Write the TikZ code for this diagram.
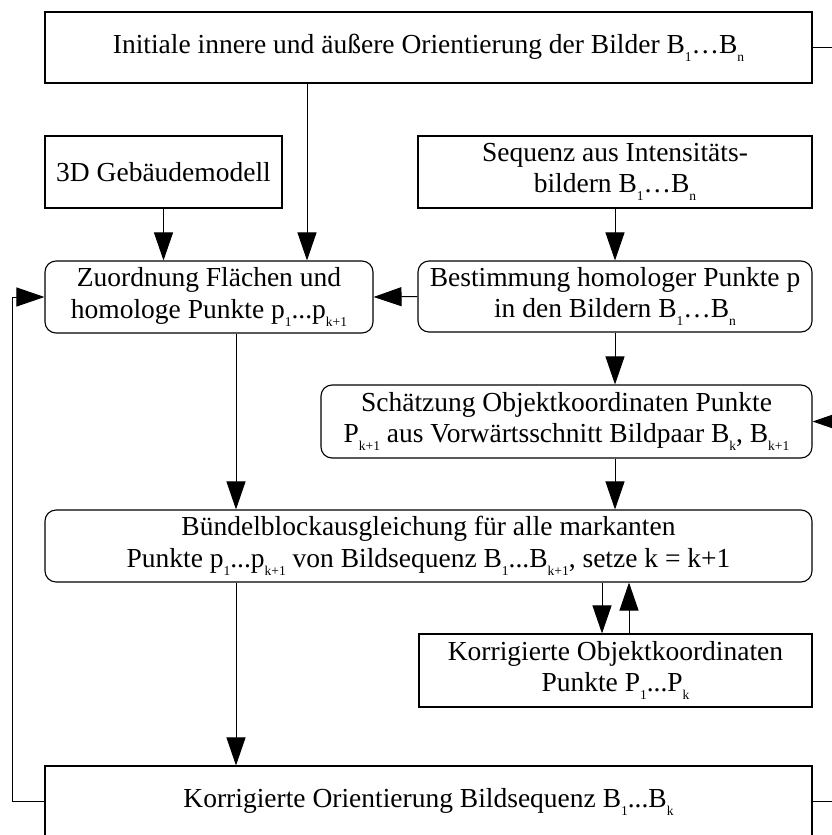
\documentclass[tikz,border=0pt]{standalone}
\usepackage{fontspec}
\setmainfont{Liberation Serif}
\usetikzlibrary{arrows.meta}
\newcommand{\sbs}[1]{\raisebox{-8pt}{\fontsize{13.5}{13.5}\selectfont #1}}
\begin{document}
\begin{tikzpicture}[x=1pt,y=-1pt,
  box/.style={draw, line width=1.1pt, inner sep=0pt, align=center,
    font=\fontsize{27.5}{31.5}\selectfont},
  rbox/.style={box, rounded corners=11pt},
  arr/.style={line width=1pt, -{Triangle[length=28pt,width=19pt]}},
  ln/.style={line width=1pt}]
\clip (0,0) rectangle (832,835);
\fill[white] (0,0) rectangle (832,835);

\node[box, minimum width=767pt, minimum height=71pt] (top) at (428.5,47.5)
  {Initiale innere und äußere Orientierung der Bilder B\sbs{1}…B\sbs{n}};
\node[box, minimum width=237pt, minimum height=72pt] (geb) at (163.5,172)
  {3D Gebäudemodell};
\node[box, minimum width=394pt, minimum height=72pt] (seq) at (615,172)
  {Sequenz aus Intensitäts-\\bildern B\sbs{1}…B\sbs{n}};
\node[rbox, minimum width=328pt, minimum height=72pt] (zuo) at (209,297)
  {Zuordnung Flächen und\\homologe Punkte p\sbs{1}...p\sbs{k+1}};
\node[rbox, minimum width=394pt, minimum height=71pt] (bes) at (615,296.5)
  {Bestimmung homologer Punkte p\\in den Bildern B\sbs{1}…B\sbs{n}};
\node[rbox, minimum width=491pt, minimum height=73pt] (sch) at (566.5,421.5)
  {Schätzung Objektkoordinaten Punkte\\P\sbs{k+1} aus Vorwärtsschnitt Bildpaar B\sbs{k}, B\sbs{k+1}};
\node[rbox, minimum width=767pt, minimum height=72pt] (bue) at (428.5,546)
  {Bündelblockausgleichung für alle markanten\\Punkte p\sbs{1}...p\sbs{k+1} von Bildsequenz B\sbs{1}...B\sbs{k+1}, setze k = k+1};
\node[box, minimum width=393pt, minimum height=73pt] (kob) at (615.5,670.5)
  {Korrigierte Objektkoordinaten\\Punkte P\sbs{1}...P\sbs{k}};
\node[box, minimum width=767pt, minimum height=71pt] (bot) at (428.5,801.5)
  {Korrigierte Orientierung Bildsequenz B\sbs{1}...B\sbs{k}};

\coordinate (xa) at (307,0);
\coordinate (xb) at (236,0);
\coordinate (rt) at (832,47.5);
\coordinate (rs) at (832,421.5);
\coordinate (rb) at (832,801.5);
\coordinate (lb) at (12,801.5);

\draw[ln] (top.east) -- (rt);
\draw[arr] (top.south -| xa) -- (zuo.north -| xa);
\draw[arr] (geb.south) -- (geb.south |- zuo.north);
\draw[arr] (seq.south) -- (bes.north);
\draw[arr] (bes.west) -- (zuo.east);
\draw[arr] (bes.south) -- (bes.south |- sch.north);
\draw[arr] (bes.south |- sch.south) -- (bes.south |- bue.north);
\draw[arr] (zuo.south -| xb) -- (bue.north -| xb);
\draw[arr] (bue.south -| xb) -- (bot.north -| xb);
\draw[arr] ([xshift=-13.5pt]kob.north |- bue.south) -- ([xshift=-13.5pt]kob.north);
\draw[arr] ([xshift=13.5pt]kob.north) -- ([xshift=13.5pt]kob.north |- bue.south);
\draw[arr] (rs) -- (sch.east);
\draw[ln] (bot.east) -- (rb);
\draw[arr] (bot.west) -- (lb) -- (lb |- zuo.west) -- (zuo.west);
\end{tikzpicture}
\end{document}
